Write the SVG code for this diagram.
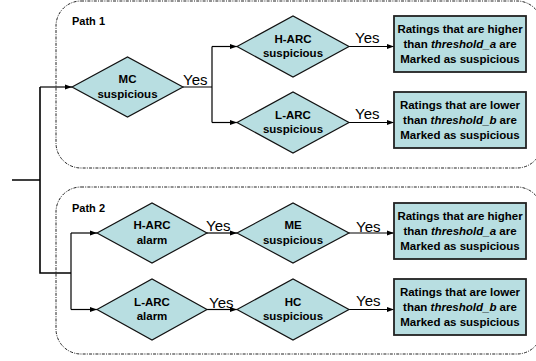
<svg xmlns="http://www.w3.org/2000/svg" width="536" height="361" viewBox="0 0 536 361">
  <style>
    .frame { fill: none; stroke: #222; stroke-width: 1; stroke-dasharray: 3 1.2 1 1.2; }
    .title { font: bold 11px "Liberation Sans", Arial, sans-serif; fill: #000; }
    .dia { fill: #B8DEE1; stroke: #111; stroke-width: 1.2; }
    .box { fill: #B8DEE1; stroke: #222; stroke-width: 1.8; }
    .lbl { font: bold 11.5px "Liberation Sans", Arial, sans-serif; fill: #000; text-anchor: middle; }
    .yes { font: 15px "Liberation Sans", Arial, sans-serif; fill: #000; }
    .wire { fill: none; stroke: #000; stroke-width: 1.2; }
    .trunk { fill: none; stroke: #000; stroke-width: 1.6; }
  </style>
  <defs>
    <marker id="arrow" markerUnits="userSpaceOnUse" markerWidth="7" markerHeight="6" refX="7" refY="3" orient="auto">
      <path d="M0,0.5 L7,3 L0,5.5 Z" fill="#000"/>
    </marker>
  </defs>

  <rect width="536" height="361" fill="#fff"/>

  <!-- dash-dot frames for the two paths -->
  <g id="path1-frame">
    <rect class="frame" x="56" y="1" width="486" height="167" rx="25" ry="25"/>
    <text class="title" x="72" y="25">Path 1</text>
  </g>
  <g id="path2-frame">
    <rect class="frame" x="56" y="187" width="486" height="167" rx="25" ry="25"/>
    <text class="title" x="72" y="212">Path 2</text>
  </g>

  <!-- connectors -->
  <g id="connectors">
    <path class="trunk" d="M12,180 H40 M40,87 V273 H71"/>
    <path class="wire" d="M40,87 H72" marker-end="url(#arrow)"/>
    <path class="wire" d="M71,233 V309.5"/>
    <path class="wire" d="M71,233 H97" marker-end="url(#arrow)"/>
    <path class="wire" d="M71,309.5 H97" marker-end="url(#arrow)"/>

    <path class="wire" d="M183,87 H212 M212,46.5 V122.5"/>
    <path class="wire" d="M212,46.5 H237" marker-end="url(#arrow)"/>
    <path class="wire" d="M212,122.5 H237" marker-end="url(#arrow)"/>
    <path class="wire" d="M349,46.5 H394" marker-end="url(#arrow)"/>
    <path class="wire" d="M349,122.5 H394" marker-end="url(#arrow)"/>

    <path class="wire" d="M207,233 H237" marker-end="url(#arrow)"/>
    <path class="wire" d="M207,309.5 H237" marker-end="url(#arrow)"/>
    <path class="wire" d="M349,233 H394" marker-end="url(#arrow)"/>
    <path class="wire" d="M349,309.5 H394" marker-end="url(#arrow)"/>

    <text class="yes" x="183" y="85">Yes</text>
    <text class="yes" x="355" y="43">Yes</text>
    <text class="yes" x="355" y="119">Yes</text>
    <text class="yes" x="206" y="231">Yes</text>
    <text class="yes" x="209" y="308">Yes</text>
    <text class="yes" x="356" y="232">Yes</text>
    <text class="yes" x="356" y="306">Yes</text>
  </g>

  <!-- decision nodes -->
  <g id="mc-suspicious">
    <polygon class="dia" points="72,87 127.5,57 183,87 127.5,117"/>
    <text class="lbl" x="127.5" y="83">MC</text>
    <text class="lbl" x="127.5" y="98">suspicious</text>
  </g>
  <g id="harc-suspicious">
    <polygon class="dia" points="237,46.5 293,16 349,46.5 293,77"/>
    <text class="lbl" x="293" y="42.5">H-ARC</text>
    <text class="lbl" x="293" y="57">suspicious</text>
  </g>
  <g id="larc-suspicious">
    <polygon class="dia" points="237,122.5 293,92 349,122.5 293,153"/>
    <text class="lbl" x="293" y="118.5">L-ARC</text>
    <text class="lbl" x="293" y="133">suspicious</text>
  </g>
  <g id="harc-alarm">
    <polygon class="dia" points="97,233 152,203 207,233 152,263"/>
    <text class="lbl" x="152" y="229">H-ARC</text>
    <text class="lbl" x="152" y="243.5">alarm</text>
  </g>
  <g id="larc-alarm">
    <polygon class="dia" points="97,309.5 152,279 207,309.5 152,340"/>
    <text class="lbl" x="152" y="305.5">L-ARC</text>
    <text class="lbl" x="152" y="320">alarm</text>
  </g>
  <g id="me-suspicious">
    <polygon class="dia" points="237,233 293,203 349,233 293,263"/>
    <text class="lbl" x="293" y="229">ME</text>
    <text class="lbl" x="293" y="243.5">suspicious</text>
  </g>
  <g id="hc-suspicious">
    <polygon class="dia" points="237,309.5 293,279 349,309.5 293,340"/>
    <text class="lbl" x="293" y="305.5">HC</text>
    <text class="lbl" x="293" y="320">suspicious</text>
  </g>

  <!-- outcome boxes -->
  <g id="outcome-high-1">
    <rect class="box" x="394" y="16" width="132" height="56"/>
    <text class="lbl" x="460" y="33">Ratings that are higher</text>
    <text class="lbl" x="460" y="48">than <tspan font-style="italic">threshold_a</tspan> are</text>
    <text class="lbl" x="460" y="63">Marked as suspicious</text>
  </g>
  <g id="outcome-low-1">
    <rect class="box" x="394" y="92" width="132" height="56"/>
    <text class="lbl" x="460" y="109">Ratings that are lower</text>
    <text class="lbl" x="460" y="124">than <tspan font-style="italic">threshold_b</tspan> are</text>
    <text class="lbl" x="460" y="139">Marked as suspicious</text>
  </g>
  <g id="outcome-high-2">
    <rect class="box" x="394" y="203" width="132" height="56"/>
    <text class="lbl" x="460" y="220">Ratings that are higher</text>
    <text class="lbl" x="460" y="235">than <tspan font-style="italic">threshold_a</tspan> are</text>
    <text class="lbl" x="460" y="250">Marked as suspicious</text>
  </g>
  <g id="outcome-low-2">
    <rect class="box" x="394" y="279" width="132" height="56"/>
    <text class="lbl" x="460" y="296">Ratings that are lower</text>
    <text class="lbl" x="460" y="311">than <tspan font-style="italic">threshold_b</tspan> are</text>
    <text class="lbl" x="460" y="326">Marked as suspicious</text>
  </g>
</svg>
